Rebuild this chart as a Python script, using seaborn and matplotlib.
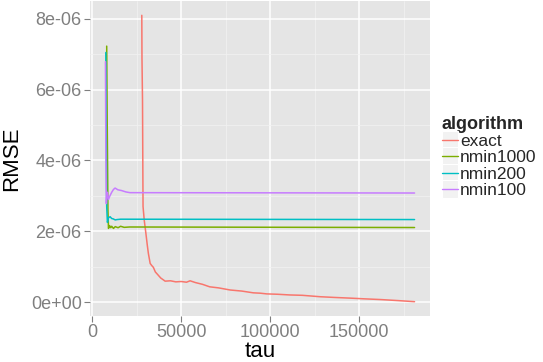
import matplotlib
matplotlib.use("Agg")
import matplotlib.pyplot as plt
from matplotlib.legend_handler import HandlerLine2D
from matplotlib.patches import Rectangle
from matplotlib.ticker import FixedLocator
import pandas as pd
import seaborn as sns

# RMSE traces per algorithm as a function of tau
exact_tau = [27900, 28000, 28300, 28500, 28600, 28800, 29300, 30200, 31000, 31600,
             32600, 33500, 34400, 35500, 37100, 38500, 41000, 44000, 47000, 50000,
             53000, 55000, 58000, 62000, 66000, 71000, 77500, 84000, 90500, 94400,
             98000, 104000, 111000, 118000, 128000, 136000, 145000, 153000, 162000,
             172000, 181000]
exact_rmse = [8.10e-6, 6.90e-6, 5.70e-6, 3.60e-6, 2.70e-6, 2.58e-6, 2.30e-6, 1.94e-6,
              1.60e-6, 1.37e-6, 1.09e-6, 1.03e-6, 0.98e-6, 0.85e-6, 0.76e-6, 0.68e-6,
              0.59e-6, 0.60e-6, 0.57e-6, 0.58e-6, 0.56e-6, 0.60e-6, 0.55e-6, 0.50e-6,
              0.43e-6, 0.40e-6, 0.34e-6, 0.31e-6, 0.26e-6, 0.25e-6, 0.23e-6, 0.22e-6,
              0.20e-6, 0.19e-6, 0.15e-6, 0.13e-6, 0.11e-6, 0.09e-6, 0.07e-6,
              0.04e-6, 0.01e-6]

nmin1000_tau = [8200, 8500, 8900, 9200, 9800, 10500, 11000, 12000, 13000, 14600,
                16000, 18000, 21000, 181000]
nmin1000_rmse = [7.23e-6, 5.00e-6, 2.60e-6, 2.08e-6, 2.16e-6, 2.10e-6, 2.14e-6,
                 2.08e-6, 2.13e-6, 2.10e-6, 2.14e-6, 2.11e-6, 2.12e-6, 2.105e-6]

nmin200_tau = [7700, 7900, 8200, 8600, 9200, 10100, 11000, 11800, 13000, 14000,
               16000, 181000]
nmin200_rmse = [7.05e-6, 5.00e-6, 2.70e-6, 2.25e-6, 2.38e-6, 2.41e-6, 2.36e-6,
                2.35e-6, 2.32e-6, 2.33e-6, 2.34e-6, 2.33e-6]

nmin100_tau = [7500, 7700, 8000, 8300, 8600, 9200, 10000, 11000, 12000, 12900,
               14500, 16500, 19000, 21300, 181000]
nmin100_rmse = [6.79e-6, 4.50e-6, 2.78e-6, 3.05e-6, 3.10e-6, 2.90e-6, 3.00e-6,
                3.10e-6, 3.18e-6, 3.22e-6, 3.17e-6, 3.15e-6, 3.11e-6, 3.09e-6, 3.08e-6]

algorithms = ["exact", "nmin1000", "nmin200", "nmin100"]
colors = ["#F8766D", "#7CAE00", "#00BFC4", "#C77CFF"]

x_ticks = [0, 50000, 100000, 150000]
x_tick_labels = ["0", "50000", "100000", "150000"]
y_ticks = [0, 2e-6, 4e-6, 6e-6, 8e-6]
y_tick_labels = ["0e+00", "2e-06", "4e-06", "6e-06", "8e-06"]

frames = []
for name, tau, rmse in [("exact", exact_tau, exact_rmse),
                        ("nmin1000", nmin1000_tau, nmin1000_rmse),
                        ("nmin200", nmin200_tau, nmin200_rmse),
                        ("nmin100", nmin100_tau, nmin100_rmse)]:
    frames.append(pd.DataFrame({"tau": tau, "RMSE": rmse, "algorithm": name}))
df = pd.concat(frames, ignore_index=True)

sns.set_theme(style="darkgrid")
plt.rcParams["font.family"] = ["Liberation Sans", "DejaVu Sans"]

fig = plt.figure(figsize=(5.43, 3.62), dpi=100)
ax = fig.add_axes([90 / 543, 1 - 316 / 362, 340 / 543, 315 / 362])
ax.set_facecolor("#E5E5E5")

sns.lineplot(data=df, x="tau", y="RMSE", hue="algorithm", hue_order=algorithms,
             palette=dict(zip(algorithms, colors)), estimator=None, sort=False,
             linewidth=1.1, ax=ax, legend=False)

# ggplot-style expanded limits
xmin, xmax = df["tau"].min(), df["tau"].max()
xr = xmax - xmin
ax.set_xlim(xmin - 0.05 * xr, xmax + 0.05 * xr)
ymin, ymax = df["RMSE"].min(), df["RMSE"].max()
yr = ymax - ymin
ax.set_ylim(ymin - 0.05 * yr, ymax + 0.05 * yr)

ax.xaxis.set_major_locator(FixedLocator(x_ticks))
ax.set_xticklabels(x_tick_labels)
ax.yaxis.set_major_locator(FixedLocator(y_ticks))
ax.set_yticklabels(y_tick_labels)
ax.xaxis.set_minor_locator(FixedLocator([25000, 75000, 125000, 175000]))
ax.yaxis.set_minor_locator(FixedLocator([1e-6, 3e-6, 5e-6, 7e-6]))

ax.grid(which="major", color="white", linewidth=1.1)
ax.grid(which="minor", color="#F2F2F2", linewidth=0.5)
ax.set_axisbelow(True)
for s in ax.spines.values():
    s.set_visible(False)

ax.tick_params(axis="both", which="major", labelsize=13, labelcolor="#7F7F7F",
               color="#7F7F7F", length=4, width=0.8, direction="out", pad=2,
               bottom=True, left=True)
ax.tick_params(axis="both", which="minor", length=0)

ax.set_xlabel("tau", fontsize=16, color="black", labelpad=0)
ax.set_ylabel("RMSE", fontsize=16, color="black", labelpad=6)


class KeyHandler(HandlerLine2D):
    def create_artists(self, legend, orig_handle, xdescent, ydescent, width,
                       height, fontsize, trans):
        artists = super().create_artists(legend, orig_handle, xdescent, ydescent,
                                         width, height, fontsize, trans)
        bg = Rectangle((-xdescent, -ydescent - 2), width, height + 4,
                       facecolor="#F2F2F2", edgecolor="white", linewidth=0.8,
                       transform=trans)
        return [bg] + artists


handles = [plt.Line2D([], [], color=c, linewidth=1.0) for c in colors]
leg = fig.legend(handles, algorithms, loc="upper left",
                 bbox_to_anchor=(442 / 543, 1 - 116 / 362), frameon=False,
                 fontsize=12.5, title="algorithm", handlelength=0.9,
                 handletextpad=0.15, labelspacing=0.06, borderpad=0.0,
                 borderaxespad=0.0,
                 handler_map={plt.Line2D: KeyHandler()})
leg.get_title().set_fontweight("bold")
leg.get_title().set_fontsize(13)
leg._legend_box.align = "left"

fig.savefig("out.png", dpi=100)
